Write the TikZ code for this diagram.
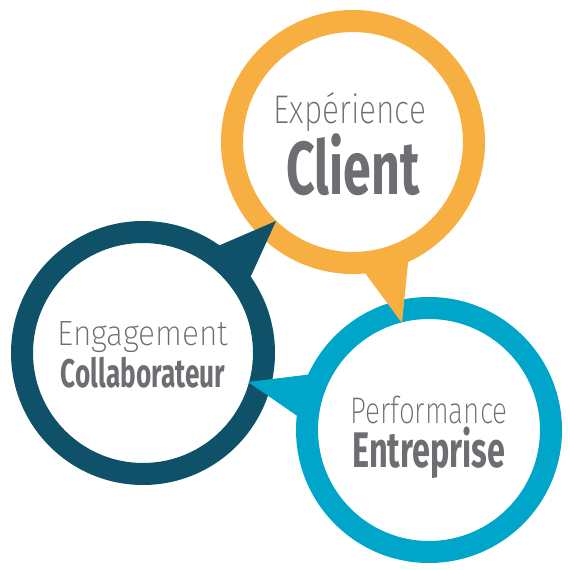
\documentclass[tikz,border=0pt]{standalone}
\usepackage{fontspec}
\usepackage{graphicx}
\setmainfont{Fira Sans}
\newfontfamily\lightfont{Fira Sans ExtraLight}
\definecolor{clientorange}{HTML}{F7AF41}
\definecolor{teamnavy}{HTML}{0E5168}
\definecolor{perfblue}{HTML}{00A5CA}
\definecolor{labelgray}{HTML}{6D6E71}
% squeeze a word to a given width, height unchanged
\newcommand{\fitw}[2]{\resizebox{#1}{\height}{#2}}
\tikzset{
  thin label/.style={anchor=base, inner sep=0pt, text=labelgray, font={\lightfont\fontsize{#1}{#1}\selectfont}},
  bold label/.style={anchor=base, inner sep=0pt, text=labelgray, font={\bfseries\fontsize{#1}{#1}\selectfont}}
}
\begin{document}
\begin{tikzpicture}[x=1pt, y=1pt, line join=round]
\useasboundingbox (0,0) rectangle (570,570);
\coordinate (client) at (353,428);
\coordinate (team) at (143,217);
\coordinate (perf) at (429,140);
\coordinate (clienttip) at (402,247);
\coordinate (teamtip) at (276,349);
\coordinate (perftip) at (248,188);
% rings
\fill[clientorange, even odd rule] (client) circle (132) (client) circle (110);
\fill[teamnavy, even odd rule] (team) circle (132) (team) circle (110);
\fill[perfblue, even odd rule] (perf) circle (133) (perf) circle (111);
% tails
\fill[clientorange] ([shift={(-86:127)}]client) -- (clienttip) -- ([shift={(-64:127)}]client) -- cycle;
\fill[teamnavy] ([shift={(56:127)}]team) -- (teamtip) -- ([shift={(34:127)}]team) -- cycle;
\fill[perfblue] ([shift={(154:128)}]perf) -- (perftip) -- ([shift={(175:128)}]perf) -- cycle;
% labels
\node[thin label=40] (exp) at (350,446) {\fitw{152pt}{Expérience}};
\node[bold label=75] (cli) at (353,375) {\fitw{133pt}{Client}};
\node[thin label=35] (eng) at (143,224) {\fitw{171pt}{Engagement}};
\node[bold label=40] (col) at (143,182) {\fitw{164pt}{Collaborateur}};
\node[thin label=37] (prf) at (429,146) {\fitw{157pt}{Performance}};
\node[bold label=50] (ent) at (429,102) {\fitw{153pt}{Entreprise}};
\end{tikzpicture}
\end{document}
